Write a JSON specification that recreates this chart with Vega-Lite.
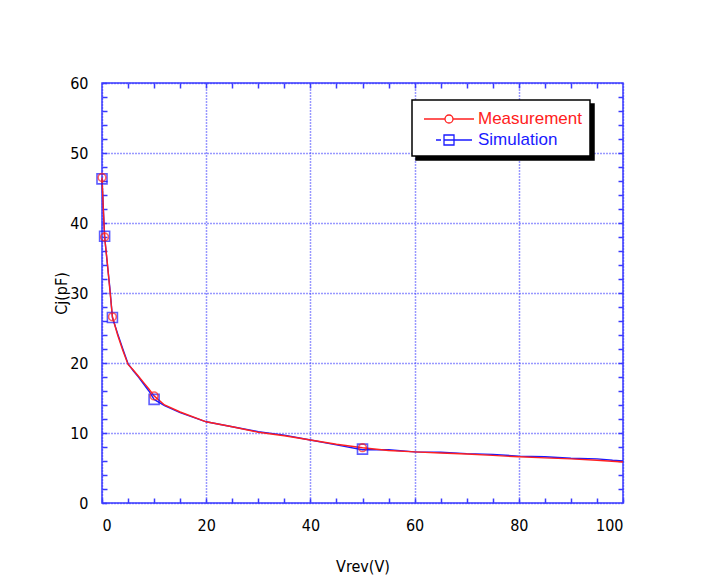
{
  "$schema": "https://vega.github.io/schema/vega-lite/v6.json",
  "width": 521,
  "height": 420,
  "autosize": {"type": "none"},
  "padding": {"left": 102, "top": 83, "right": 78, "bottom": 78},
  "background": "white",
  "config": {
    "view": {"stroke": "#3a3aff", "strokeWidth": 1.5},
    "axis": {
      "labelFont": "'Liberation Sans Narrow', 'Arial Narrow', 'DejaVu Sans Condensed', sans-serif",
      "labelFontSize": 16,
      "labelColor": "black",
      "titleFont": "'Liberation Sans Narrow', 'Arial Narrow', 'DejaVu Sans Condensed', sans-serif",
      "titleFontSize": 16,
      "titleFontWeight": "normal",
      "titleColor": "black",
      "domain": false,
      "tickColor": "#3a3aff",
      "tickSize": -5,
      "tickWidth": 1.5,
      "gridColor": "#3333ff",
      "gridDash": [1, 2],
      "gridWidth": 1.5,
      "gridOpacity": 1
    }
  },
  "datasets": {
    "lines": [
      {"series": "Simulation", "v": 0, "c": 46.3},
      {"series": "Simulation", "v": 0.5, "c": 38.1},
      {"series": "Simulation", "v": 1, "c": 34.3},
      {"series": "Simulation", "v": 1.5, "c": 30.8},
      {"series": "Simulation", "v": 2, "c": 26.5},
      {"series": "Simulation", "v": 3, "c": 24.2},
      {"series": "Simulation", "v": 4, "c": 22.0},
      {"series": "Simulation", "v": 5, "c": 19.9},
      {"series": "Simulation", "v": 6, "c": 18.9},
      {"series": "Simulation", "v": 7, "c": 18.0},
      {"series": "Simulation", "v": 8, "c": 17.0},
      {"series": "Simulation", "v": 9, "c": 16.0},
      {"series": "Simulation", "v": 10, "c": 14.8},
      {"series": "Simulation", "v": 12, "c": 13.9},
      {"series": "Simulation", "v": 15, "c": 12.9},
      {"series": "Simulation", "v": 20, "c": 11.6},
      {"series": "Simulation", "v": 25, "c": 10.9},
      {"series": "Simulation", "v": 30, "c": 10.2},
      {"series": "Simulation", "v": 35, "c": 9.7},
      {"series": "Simulation", "v": 40, "c": 9.0},
      {"series": "Simulation", "v": 45, "c": 8.3},
      {"series": "Simulation", "v": 50, "c": 7.6},
      {"series": "Simulation", "v": 55, "c": 7.6},
      {"series": "Simulation", "v": 60, "c": 7.3},
      {"series": "Simulation", "v": 65, "c": 7.25},
      {"series": "Simulation", "v": 70, "c": 7.05},
      {"series": "Simulation", "v": 75, "c": 6.95},
      {"series": "Simulation", "v": 80, "c": 6.7},
      {"series": "Simulation", "v": 85, "c": 6.6},
      {"series": "Simulation", "v": 90, "c": 6.4},
      {"series": "Simulation", "v": 95, "c": 6.3},
      {"series": "Simulation", "v": 98, "c": 6.1},
      {"series": "Simulation", "v": 100, "c": 6.0},
      {"series": "Measurement", "v": 0, "c": 46.5},
      {"series": "Measurement", "v": 0.25, "c": 42.0},
      {"series": "Measurement", "v": 0.5, "c": 38.0},
      {"series": "Measurement", "v": 1, "c": 34.5},
      {"series": "Measurement", "v": 1.5, "c": 30.5},
      {"series": "Measurement", "v": 2, "c": 26.6},
      {"series": "Measurement", "v": 3, "c": 24.0},
      {"series": "Measurement", "v": 4, "c": 21.8},
      {"series": "Measurement", "v": 5, "c": 19.8},
      {"series": "Measurement", "v": 6, "c": 19.0},
      {"series": "Measurement", "v": 7, "c": 18.1},
      {"series": "Measurement", "v": 8, "c": 17.2},
      {"series": "Measurement", "v": 9, "c": 16.3},
      {"series": "Measurement", "v": 10, "c": 15.3},
      {"series": "Measurement", "v": 12, "c": 14.0},
      {"series": "Measurement", "v": 15, "c": 13.0},
      {"series": "Measurement", "v": 20, "c": 11.6},
      {"series": "Measurement", "v": 25, "c": 10.9},
      {"series": "Measurement", "v": 30, "c": 10.1},
      {"series": "Measurement", "v": 35, "c": 9.6},
      {"series": "Measurement", "v": 40, "c": 9.0},
      {"series": "Measurement", "v": 45, "c": 8.4},
      {"series": "Measurement", "v": 50, "c": 7.9},
      {"series": "Measurement", "v": 55, "c": 7.5},
      {"series": "Measurement", "v": 60, "c": 7.3},
      {"series": "Measurement", "v": 65, "c": 7.15},
      {"series": "Measurement", "v": 70, "c": 7.0},
      {"series": "Measurement", "v": 75, "c": 6.8},
      {"series": "Measurement", "v": 80, "c": 6.6},
      {"series": "Measurement", "v": 85, "c": 6.45},
      {"series": "Measurement", "v": 90, "c": 6.3},
      {"series": "Measurement", "v": 95, "c": 6.1},
      {"series": "Measurement", "v": 100, "c": 5.85}
    ],
    "markers": [
      {"series": "Simulation", "v": 0, "c": 46.3},
      {"series": "Simulation", "v": 0.5, "c": 38.1},
      {"series": "Simulation", "v": 2, "c": 26.5},
      {"series": "Simulation", "v": 10, "c": 14.8},
      {"series": "Simulation", "v": 50, "c": 7.7},
      {"series": "Measurement", "v": 0, "c": 46.5},
      {"series": "Measurement", "v": 0.5, "c": 38.0},
      {"series": "Measurement", "v": 2, "c": 26.6},
      {"series": "Measurement", "v": 10, "c": 15.3},
      {"series": "Measurement", "v": 50, "c": 7.9}
    ]
  },
  "layer": [
    {
      "data": {"name": "lines"},
      "transform": [{"filter": "datum.series === 'Simulation'"}],
      "mark": {"type": "line", "strokeWidth": 1.4},
      "encoding": {
        "x": {"field": "v", "type": "quantitative", "scale": {"domain": [0, 100], "nice": false},
          "axis": {"orient": "bottom", "values": [0, 20, 40, 60, 80, 100], "grid": true, "title": "Vrev(V)", "labelPadding": 19, "titlePadding": 25}},
        "y": {"field": "c", "type": "quantitative", "scale": {"domain": [0, 60], "nice": false},
          "axis": {"orient": "left", "values": [0, 10, 20, 30, 40, 50, 60], "grid": true, "title": "Cj(pF)", "labelPadding": 19, "titlePadding": 0}},
        "color": {"field": "series", "type": "nominal",
          "scale": {"domain": ["Simulation", "Measurement"], "range": ["#1a1aff", "#ff2020"]},
          "legend": {
            "orient": "none", "legendX": 314, "legendY": 21,
            "title": null,
            "fillColor": "black", "strokeColor": "black",
            "padding": 8,
            "symbolSize": 400, "symbolOffset": 18, "labelOffset": 122,
            "symbolStrokeWidth": 1.3,
            "rowPadding": 2,
            "labelExpr": "''",
            "labelFont": "'Liberation Sans', Arial, sans-serif", "labelFontSize": 17,
            "encode": {
              "legend": {"update": {"strokeWidth": {"value": 1.5}}},
              "symbols": {"update": {
                "shape": {"signal": "datum.value === 'Measurement' ? 'M-2.5,0H-0.4M0.4,0H2.5M-0.4,0A0.4,0.4,0,1,1,0.4,0A0.4,0.4,0,1,1,-0.4,0' : 'M-1.3,0H-0.8M-0.5,-0.5H0.5V0.5H-0.5ZM-0.5,0H2.3'"},
                "fill": {"value": "black"},
                "stroke": {"value": "black"}
              }}
            }
          }},
        "opacity": {"field": "series", "type": "nominal",
          "scale": {"domain": ["Measurement", "Simulation"], "range": [1, 1]},
          "legend": {
            "orient": "none", "legendX": 310, "legendY": 17,
            "title": null,
            "fillColor": "white", "strokeColor": "black",
            "padding": 8,
            "symbolSize": 400, "symbolOffset": 18, "labelOffset": 18,
            "symbolStrokeWidth": 1.3,
            "rowPadding": 2,
            "labelFont": "'Liberation Sans', Arial, sans-serif", "labelFontSize": 17,
            "encode": {
              "legend": {"update": {"strokeWidth": {"value": 1.5}}},
              "symbols": {"update": {
                "shape": {"signal": "datum.value === 'Measurement' ? 'M-2.5,0H-0.4M0.4,0H2.5M-0.4,0A0.4,0.4,0,1,1,0.4,0A0.4,0.4,0,1,1,-0.4,0' : 'M-1.3,0H-0.8M-0.5,-0.5H0.5V0.5H-0.5ZM-0.5,0H2.3'"},
                "fill": {"value": "transparent"},
                "opacity": {"value": 1},
                "stroke": {"signal": "datum.value === 'Measurement' ? '#ff2020' : '#1a1aff'"}
              }},
              "labels": {"update": {
                "fill": {"signal": "datum.value === 'Measurement' ? '#ff2020' : '#1a1aff'"}
              }}
            }
          }}
      }
    },
    {
      "data": {"name": "lines"},
      "transform": [{"filter": "datum.series === 'Measurement'"}],
      "mark": {"type": "line", "strokeWidth": 1.4},
      "encoding": {
        "x": {"field": "v", "type": "quantitative",
          "axis": {"orient": "bottom", "values": [5, 10, 15, 25, 30, 35, 45, 50, 55, 65, 70, 75, 85, 90, 95], "labels": false, "grid": false, "title": null}},
        "y": {"field": "c", "type": "quantitative",
          "axis": {"orient": "left", "values": [2, 4, 6, 8, 12, 14, 16, 18, 22, 24, 26, 28, 32, 34, 36, 38, 42, 44, 46, 48, 52, 54, 56, 58], "labels": false, "grid": false, "title": null}},
        "color": {"field": "series", "type": "nominal"}
      }
    },
    {
      "data": {"name": "markers"},
      "transform": [{"filter": "datum.series === 'Simulation'"}],
      "mark": {"type": "point", "shape": "square", "size": 100, "filled": false, "strokeWidth": 1.6},
      "encoding": {
        "x": {"field": "v", "type": "quantitative",
          "axis": {"orient": "top", "values": [5, 10, 15, 20, 25, 30, 35, 40, 45, 50, 55, 60, 65, 70, 75, 80, 85, 90, 95], "labels": false, "grid": false, "title": null}},
        "y": {"field": "c", "type": "quantitative",
          "axis": {"orient": "right", "values": [2, 4, 6, 8, 10, 12, 14, 16, 18, 20, 22, 24, 26, 28, 30, 32, 34, 36, 38, 40, 42, 44, 46, 48, 50, 52, 54, 56, 58], "labels": false, "grid": false, "title": null}},
        "color": {"field": "series", "type": "nominal"}
      }
    },
    {
      "data": {"name": "markers"},
      "transform": [{"filter": "datum.series === 'Measurement'"}],
      "mark": {"type": "point", "shape": "circle", "size": 60, "filled": false, "strokeWidth": 1.6},
      "encoding": {
        "x": {"field": "v", "type": "quantitative", "axis": null},
        "y": {"field": "c", "type": "quantitative", "axis": null},
        "color": {"field": "series", "type": "nominal"}
      }
    }
  ],
  "resolve": {"axis": {"x": "independent", "y": "independent"}}
}
